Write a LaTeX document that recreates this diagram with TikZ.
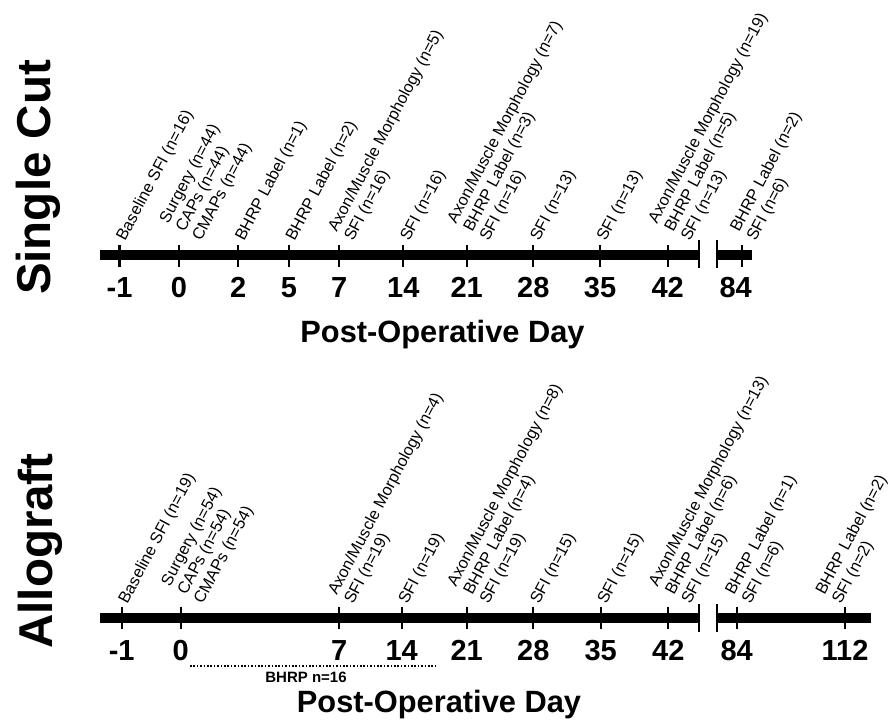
\documentclass[tikz,border=0pt]{standalone}
\usepackage{fontspec}
\setmainfont{Liberation Sans}
\begin{document}
\begin{tikzpicture}[x=1pt,y=-1pt,
  lbl/.style={font=\fontsize{16.3}{18.5}\selectfont, rotate=62, anchor=south west, inner sep=0pt, align=left},
  num/.style={font=\bfseries\fontsize{29}{29}\selectfont, anchor=base, inner sep=0pt},
  axt/.style={font=\bfseries\fontsize{30.8}{30.8}\selectfont, anchor=base, inner sep=0pt},
  ttl/.style={font=\bfseries\fontsize{47.5}{47.5}\selectfont, rotate=90, anchor=base, inner sep=0pt},
  barline/.style={line width=9.5pt, line cap=butt},
  tk/.style={line width=2.2pt},
  brk/.style={line width=2.4pt}
]
\path[use as bounding box] (0,0) rectangle (890,719);

% ---------------- Single Cut ----------------
\node[ttl] (t1) at (50.5,177.5) {Single Cut};
\coordinate (as) at (100,255);
\coordinate (ae1) at (699,255);
\coordinate (as2) at (717,255);
\coordinate (ae2) at (751.7,255);
\draw[barline] (as) -- (ae1);
\draw[barline] (as2) -- (ae2);
\draw[brk] ([shift={(0,-15)}]ae1) -- ([shift={(0,13)}]ae1);
\draw[brk] ([shift={(0,-15)}]as2) -- ([shift={(0,13)}]as2);

\foreach \n/\x in {m1/119.5, 0/179, 2/238.3, 5/289, 7/339.3, 14/403.3, 21/466.7, 28/533.3, 35/600, 42/667.7, 84/741.7}{
  \coordinate (a\n) at (\x,255);
  \draw[tk] ([shift={(0,-10)}]a\n) -- ([shift={(0,12)}]a\n);
}
\node[num] (na1) at ([shift={(0,42)}]am1) {-1};
\node[num] (na2) at ([shift={(0,42)}]a0) {0};
\node[num] (na3) at ([shift={(0,42)}]a2) {2};
\node[num] (na4) at ([shift={(0,42)}]a5) {5};
\node[num] (na5) at ([shift={(0,42)}]a7) {7};
\node[num] (na6) at ([shift={(0,42)}]a14) {14};
\node[num] (na7) at ([shift={(0,42)}]a21) {21};
\node[num] (na8) at ([shift={(0,42)}]a28) {28};
\node[num] (na9) at ([shift={(0,42)}]a35) {35};
\node[num] (na10) at ([shift={(0,42)}]a42) {42};
\node[num] (na11) at ([shift={(-6,42)}]a84) {84};

\node[lbl] (la1) at ([shift={(8.8,-11.5)}]am1) {Baseline SFI (n=16)};
\node[lbl] (la2) at ([shift={(25.1,-11.5)}]a0) {Surgery (n=44)\\CAPs (n=44)\\CMAPs (n=44)};
\node[lbl] (la3) at ([shift={(8.8,-11.5)}]a2) {BHRP Label (n=1)};
\node[lbl] (la4) at ([shift={(8.8,-11.5)}]a5) {BHRP Label (n=2)};
\node[lbl] (la5) at ([shift={(16.9,-11.5)}]a7) {Axon/Muscle Morphology (n=5)\\SFI (n=16)};
\node[lbl] (la6) at ([shift={(8.8,-11.5)}]a14) {SFI (n=16)};
\node[lbl] (la7) at ([shift={(25.1,-11.5)}]a21) {Axon/Muscle Morphology (n=7)\\BHRP Label (n=3)\\SFI (n=16)};
\node[lbl] (la8) at ([shift={(8.8,-11.5)}]a28) {SFI (n=13)};
\node[lbl] (la9) at ([shift={(8.8,-11.5)}]a35) {SFI (n=13)};
\node[lbl] (la10) at ([shift={(25.1,-11.5)}]a42) {Axon/Muscle Morphology (n=19)\\BHRP Label (n=5)\\SFI (n=13)};
\node[lbl] (la11) at ([shift={(16.9,-11.5)}]a84) {BHRP Label (n=2)\\SFI (n=6)};

\node[axt] (xa) at (442.5,342) {Post-Operative Day};

% ---------------- Allograft ----------------
\node[ttl] (t2) at (52,551) {Allograft};
\coordinate (bs) at (100,618);
\coordinate (be1) at (699,618);
\coordinate (bs2) at (717,618);
\coordinate (be2) at (870.7,618);
\draw[barline] (bs) -- (be1);
\draw[barline] (bs2) -- (be2);
\draw[brk] ([shift={(0,-14)}]be1) -- ([shift={(0,14)}]be1);
\draw[brk] ([shift={(0,-14)}]bs2) -- ([shift={(0,14)}]bs2);

\foreach \n/\x in {m1/121.7, 0/180.7, 7/339.3, 14/401.7, 21/466.7, 28/533.3, 35/600.7, 42/668.3, 84/736.7, 112/845}{
  \coordinate (b\n) at (\x,618);
  \draw[tk] ([shift={(0,-11)}]b\n) -- ([shift={(0,11)}]b\n);
}
\node[num] (nb1) at ([shift={(0,42)}]bm1) {-1};
\node[num] (nb2) at ([shift={(0,42)}]b0) {0};
\node[num] (nb3) at ([shift={(0,42)}]b7) {7};
\node[num] (nb4) at ([shift={(0,42)}]b14) {14};
\node[num] (nb5) at ([shift={(0,42)}]b21) {21};
\node[num] (nb6) at ([shift={(0,42)}]b28) {28};
\node[num] (nb7) at ([shift={(0,42)}]b35) {35};
\node[num] (nb8) at ([shift={(0,42)}]b42) {42};
\node[num] (nb9) at ([shift={(0,42)}]b84) {84};
\node[num] (nb10) at ([shift={(0,42)}]b112) {112};

\node[lbl] (lb1) at ([shift={(8.8,-11.5)}]bm1) {Baseline SFI (n=19)};
\node[lbl] (lb2) at ([shift={(25.1,-11.5)}]b0) {Surgery (n=54)\\CAPs (n=54)\\CMAPs (n=54)};
\node[lbl] (lb3) at ([shift={(16.9,-11.5)}]b7) {Axon/Muscle Morphology (n=4)\\SFI (n=19)};
\node[lbl] (lb4) at ([shift={(8.8,-11.5)}]b14) {SFI (n=19)};
\node[lbl] (lb5) at ([shift={(25.1,-11.5)}]b21) {Axon/Muscle Morphology (n=8)\\BHRP Label (n=4)\\SFI (n=19)};
\node[lbl] (lb6) at ([shift={(8.8,-11.5)}]b28) {SFI (n=15)};
\node[lbl] (lb7) at ([shift={(8.8,-11.5)}]b35) {SFI (n=15)};
\node[lbl] (lb8) at ([shift={(25.1,-11.5)}]b42) {Axon/Muscle Morphology (n=13)\\BHRP Label (n=6)\\SFI (n=15)};
\node[lbl] (lb9) at ([shift={(16.9,-11.5)}]b84) {BHRP Label (n=1)\\SFI (n=6)};
\node[lbl] (lb10) at ([shift={(-1,-11.5)}]b112) {BHRP Label (n=2)\\SFI (n=2)};

\coordinate (ds) at (190,666);
\coordinate (de) at (437,666);
\draw[line width=1.6pt, dash pattern=on 1.6pt off 1.8pt] (ds) -- (de);
\node[font=\bfseries\fontsize{15}{15}\selectfont, anchor=base, inner sep=0pt] (bh) at (306,682.5) {BHRP n=16};

\node[axt] (xb) at (439,712) {Post-Operative Day};
\end{tikzpicture}
\end{document}
